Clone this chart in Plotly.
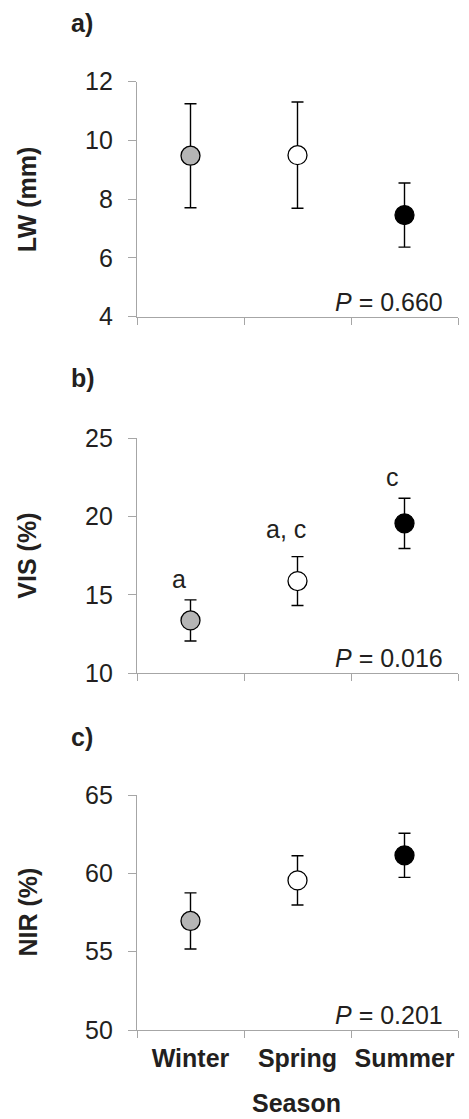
import plotly.graph_objects as go

# Seasonal means and error bar half-widths
seasons = ["Winter", "Spring", "Summer"]
fill_colors = ["#b5b5b5", "#ffffff", "#000000"]

lw_mean = [9.48, 9.50, 7.46]
lw_err = [1.77, 1.81, 1.09]

vis_mean = [13.37, 15.88, 19.56]
vis_err = [1.31, 1.56, 1.60]

nir_mean = [56.96, 59.55, 61.15]
nir_err = [1.79, 1.57, 1.41]

vis_letters = ["a", "a, c", "c"]
vis_letter_y = [16.0, 19.2, 22.5]

p_texts = ["0.660", "0.016", "0.201"]
panel_tags = ["a)", "b)", "c)"]
y_titles = ["LW (mm)", "VIS (%)", "NIR (%)"]
y_ranges = [[4, 12], [10, 25], [50, 65]]
y_dtick = [2, 5, 5]

FONT = "Liberation Sans, Arial, sans-serif"
TXT = "#231f20"
AXC = "#a6a6a6"
FS = 25

W, H = 469, 1119
x_dom = [137 / W, 458 / W]
# plot-area tops/bottoms in pixels
tops = [81.7, 438.0, 795.0]
bottoms = [316.7, 673.3, 1030.0]
tag_y = [23, 378, 737]

fig = go.Figure()
means = [lw_mean, vis_mean, nir_mean]
errs = [lw_err, vis_err, nir_err]

layout = dict(
    width=W, height=H,
    margin=dict(l=0, r=0, t=0, b=0, autoexpand=False),
    paper_bgcolor="white", plot_bgcolor="white",
    showlegend=False,
    font=dict(family=FONT, size=FS, color=TXT),
)
annotations = []

for i in range(3):
    n = "" if i == 0 else str(i + 1)
    xa, ya = "x" + n, "y" + n
    fig.add_trace(go.Scatter(
        x=seasons, y=means[i], mode="markers",
        xaxis=xa, yaxis=ya,
        marker=dict(size=19, color=fill_colors, line=dict(color="#000000", width=1.3)),
        error_y=dict(type="data", array=errs[i], visible=True,
                     color="#000000", thickness=1.4, width=6),
        hoverinfo="skip",
    ))
    dom = [1 - bottoms[i] / H, 1 - tops[i] / H]
    layout["xaxis" + n] = dict(
        domain=x_dom, anchor=ya, type="category",
        categoryorder="array", categoryarray=seasons,
        range=[-0.5, 2.5], tickson="boundaries",
        ticks="outside", ticklen=7, tickcolor=AXC, tickwidth=1.3,
        showline=True, linecolor=AXC, linewidth=1.3,
        showgrid=False, zeroline=False,
        showticklabels=(i == 2), tickangle=0, automargin=False,
        tickfont=dict(family=FONT, size=FS, color=TXT, weight="bold"),
        ticklabelstandoff=6,
    )
    layout["yaxis" + n] = dict(
        domain=dom, anchor=xa, range=y_ranges[i], dtick=y_dtick[i],
        tick0=y_ranges[i][0], automargin=False,
        ticks="outside", ticklen=8, tickcolor=AXC, tickwidth=1.3,
        showline=True, linecolor=AXC, linewidth=1.3,
        showgrid=False, zeroline=False,
        tickfont=dict(family=FONT, size=FS, color=TXT),
        ticklabelstandoff=10,
    )
    # y-axis title
    annotations.append(dict(
        text="<b>%s</b>" % y_titles[i], textangle=-90,
        xref="paper", yref="paper",
        x=27 / W, y=1 - (tops[i] + bottoms[i]) / 2 / H,
        xanchor="center", yanchor="middle", showarrow=False,
        font=dict(family=FONT, size=FS, color=TXT),
    ))
    # panel tag
    annotations.append(dict(
        text="<b>%s</b>" % panel_tags[i],
        xref="paper", yref="paper", x=69 / W, y=1 - tag_y[i] / H,
        xanchor="left", yanchor="middle", showarrow=False,
        font=dict(family=FONT, size=FS, color=TXT),
    ))
    # P value, bottom-right corner of each panel
    annotations.append(dict(
        text="<i>P</i> = %s" % p_texts[i],
        xref=xa + " domain", yref=ya + " domain",
        x=(445 - 137) / (458 - 137), y=15 / (bottoms[i] - tops[i]),
        xanchor="right", yanchor="middle", showarrow=False,
        font=dict(family=FONT, size=FS, color=TXT),
    ))

# significance letters above VIS means
for s, lab, ly in zip(seasons, vis_letters, vis_letter_y):
    annotations.append(dict(
        text=lab, xref="x2", yref="y2", x=s, y=ly, xshift=-12,
        xanchor="center", yanchor="middle", showarrow=False,
        font=dict(family=FONT, size=FS, color=TXT),
    ))

# x-axis title
annotations.append(dict(
    text="<b>Season</b>", xref="paper", yref="paper",
    x=296 / W, y=1 - 1103 / H, xanchor="center", yanchor="middle",
    showarrow=False, font=dict(family=FONT, size=FS, color=TXT),
))

layout["annotations"] = annotations
fig.update_layout(**layout)
fig.write_html("out.html")
